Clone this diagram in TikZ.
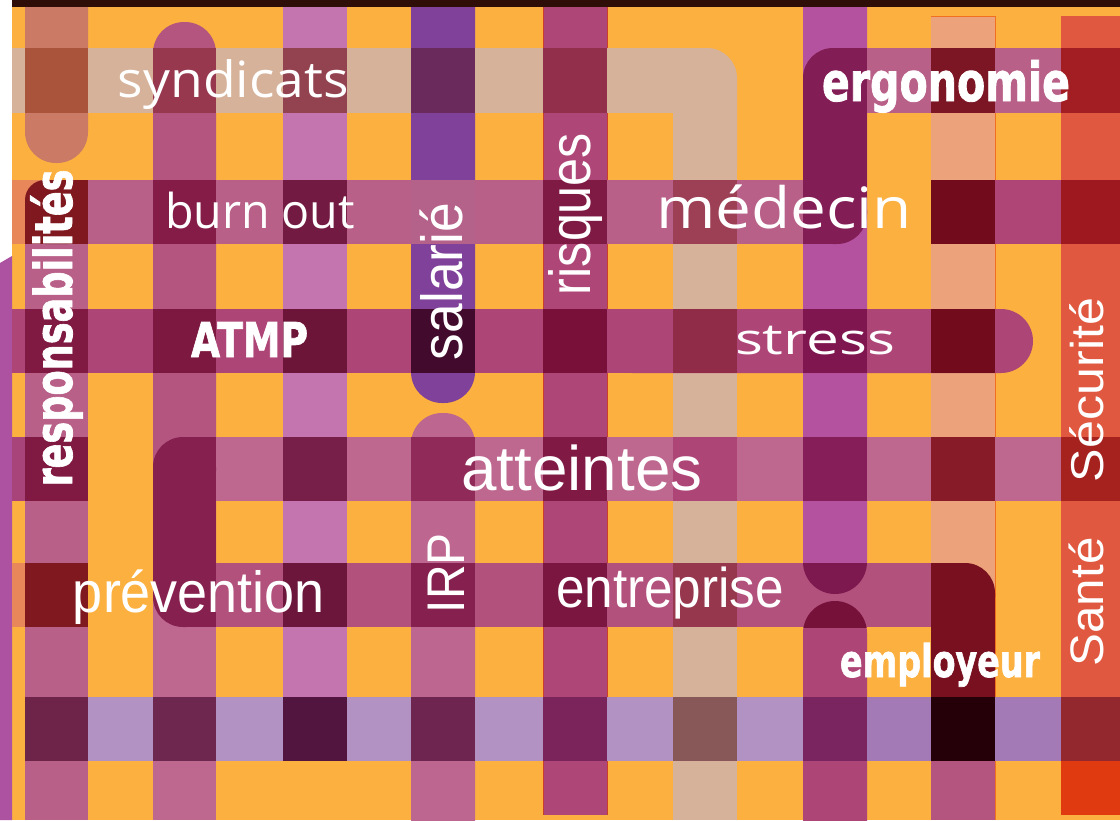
\documentclass[tikz,border=0pt]{standalone}
\usepackage{fontspec}
\usepackage{graphicx}
\setmainfont{Liberation Sans}
\newfontfamily\hum{Open Sans}
\newfontfamily\imp{DejaVu Sans}[BoldFeatures={FakeBold=1.6}]
% base colours
\definecolor{orng}{HTML}{FBB040}
\definecolor{topbar}{HTML}{2E0E06}
\definecolor{lpurp}{HTML}{AD52A0}
\definecolor{salA}{HTML}{CA7A65}
\definecolor{beige}{HTML}{D6B29A}
\definecolor{pkb}{HTML}{B86088}
\definecolor{mgb}{HTML}{AE4577}
\definecolor{atb}{HTML}{BE6890}
\definecolor{pvb}{HTML}{B3517D}
\definecolor{lav}{HTML}{B192C2}
\definecolor{lavb}{HTML}{A37AB5}
\definecolor{colB}{HTML}{B45580}
\definecolor{colC}{HTML}{C475B0}
\definecolor{colD}{HTML}{7F4199}
\definecolor{colE}{HTML}{AE4677}
\definecolor{colG}{HTML}{B5529F}
\definecolor{colH}{HTML}{ECA27A}
\definecolor{colI}{HTML}{E05840}
\definecolor{irpc}{HTML}{BD6690}
\definecolor{salm}{HTML}{E8875A}
\definecolor{colHb}{HTML}{B45580}
\definecolor{colIb}{HTML}{E03A10}
\definecolor{edgeo}{HTML}{F07020}
\definecolor{edger}{HTML}{C8402A}
% row 1
\definecolor{ra}{HTML}{A9543B}\definecolor{rb}{HTML}{97384F}\definecolor{rc}{HTML}{93434F}
\definecolor{rd}{HTML}{6A2A5C}\definecolor{re}{HTML}{922F4A}\definecolor{rg}{HTML}{831D56}
\definecolor{rh}{HTML}{7C1624}\definecolor{ri}{HTML}{A21E22}
% row 2
\definecolor{sa}{HTML}{801820}\definecolor{sb}{HTML}{851C48}\definecolor{sc}{HTML}{721A42}
\definecolor{sd}{HTML}{B5628A}\definecolor{se}{HTML}{7E1A43}\definecolor{sf}{HTML}{9E4055}
\definecolor{sh}{HTML}{720C1D}\definecolor{shi}{HTML}{AF4576}\definecolor{si}{HTML}{9E1820}
% row 3
\definecolor{ta}{HTML}{801A42}\definecolor{tb}{HTML}{7D1840}\definecolor{tc}{HTML}{6C1538}
\definecolor{td}{HTML}{420A2C}\definecolor{te}{HTML}{78103A}\definecolor{tf}{HTML}{912C48}
\definecolor{tg}{HTML}{7F1650}\definecolor{th}{HTML}{720C1D}
% row 4
\definecolor{ua}{HTML}{801A42}\definecolor{ugz}{HTML}{A8447A}\definecolor{ub}{HTML}{86204E}
\definecolor{uc}{HTML}{771F49}\definecolor{ud}{HTML}{902A58}\definecolor{ue}{HTML}{801A45}
\definecolor{uf}{HTML}{AE4577}\definecolor{ug}{HTML}{861F59}\definecolor{uh}{HTML}{871B28}
\definecolor{ui}{HTML}{A5221F}
% row 5
\definecolor{va}{HTML}{801820}\definecolor{vc}{HTML}{6C163C}\definecolor{vd}{HTML}{86204E}
\definecolor{ve}{HTML}{7B1640}\definecolor{vf}{HTML}{96374D}\definecolor{vgu}{HTML}{7E1950}
\definecolor{vgl}{HTML}{76123A}\definecolor{vh}{HTML}{78101F}
% row 6
\definecolor{wa}{HTML}{6E2449}\definecolor{wb}{HTML}{6E2850}\definecolor{wc}{HTML}{521540}
\definecolor{wd}{HTML}{6E2650}\definecolor{we}{HTML}{7B245C}\definecolor{wf}{HTML}{875857}
\definecolor{wg}{HTML}{7A2460}\definecolor{wh}{HTML}{250008}\definecolor{wi}{HTML}{93282E}

\newcommand\tx[3]{\resizebox{#1pt}{\height}{\fontsize{#2pt}{#2pt}\selectfont #3}}
\newcommand\bx[5]{\fill[#5] (#1,#2) rectangle (#3,#4);}
\newcommand\rTL[6]{\fill[#5,rounded corners=#6pt] (#1,#2) rectangle (#3,#4);
  \fill[#5] ({#1+#6},#2) rectangle (#3,#4);\fill[#5] (#1,{#2+#6}) rectangle (#3,#4);}
\newcommand\rTR[6]{\fill[#5,rounded corners=#6pt] (#1,#2) rectangle (#3,#4);
  \fill[#5] (#1,#2) rectangle ({#3-#6},#4);\fill[#5] (#1,{#2+#6}) rectangle (#3,#4);}
\newcommand\rBR[6]{\fill[#5,rounded corners=#6pt] (#1,#2) rectangle (#3,#4);
  \fill[#5] (#1,#2) rectangle ({#3-#6},#4);\fill[#5] (#1,#2) rectangle (#3,{#4-#6});}
\newcommand\rBL[6]{\fill[#5,rounded corners=#6pt] (#1,#2) rectangle (#3,#4);
  \fill[#5] ({#1+#6},#2) rectangle (#3,#4);\fill[#5] (#1,#2) rectangle (#3,{#4-#6});}

\begin{document}
\begin{tikzpicture}[x=1pt,y=-1pt,
  txt/.style={text=white, inner sep=0pt, outer sep=0pt, anchor=base},
  edgeline/.style={line width=1pt}]
\useasboundingbox (0,0) rectangle (1120,820);
\clip (0,0) rectangle (1120,820);
% background
\fill[white] (0,0) rectangle (1120,820);
\fill[orng] (12,0) rectangle (1120,820);
\fill[lpurp] (0,263) -- (12,256) -- (12,820) -- (0,820) -- cycle;

% ---------- vertical stripes ----------
\fill[salA, rounded corners=31pt] (25,-80) rectangle (88,163);
\bx{25}{244}{88}{820}{pkb}
\fill[colB, rounded corners=31pt] (153,22) rectangle (216,600);
\bx{153}{600}{216}{820}{atb}
\bx{283}{0}{347}{697}{colC}
\fill[colD, rounded corners=31pt] (411,-80) rectangle (475,403);
\fill[irpc, rounded corners=31pt] (411,413) rectangle (475,900);
\bx{543}{0}{607}{815}{colE}
\fill[colG, rounded corners=32pt] (803,-80) rectangle (867,594);
\fill[mgb, rounded corners=32pt] (803,601) rectangle (867,900);
\bx{931}{16}{995}{761}{colH}
\bx{931}{761}{995}{820}{colHb}
\bx{1061}{16}{1120}{761}{colI}
\bx{1061}{761}{1120}{815}{colIb}
\draw[edgeline, edger] (543,7) -- (543,815);
\draw[edgeline, edger] (607,7) -- (607,815);
\draw[edgeline, edgeo] (995.5,16) -- (995.5,820);
\draw[line width=1.5pt, edgeo] (931,16.5) -- (995,16.5);

% ---------- band 1 : syndicats (turns down column F) ----------
\bx{12}{48}{700}{113}{beige}
\fill[beige, rounded corners=30pt] (673,48) rectangle (737,200);
\bx{673}{100}{737}{820}{beige}
\bx{25}{48}{88}{113}{ra}
\bx{153}{48}{216}{113}{rb}
\bx{283}{48}{347}{113}{rc}
\bx{411}{48}{475}{113}{rd}
\bx{543}{48}{607}{113}{re}

% ---------- band 2 : burn out / medecin / ergonomie ----------
\bx{867}{48}{1120}{113}{pkb}
\rTL{803}{48}{867}{113}{rg}{30}
\bx{931}{48}{995}{113}{rh}
\bx{1061}{48}{1120}{113}{ri}
\bx{803}{113}{867}{180}{rg}
\bx{12}{180}{88}{244}{salm}
\rTL{25}{180}{88}{244}{sa}{20}
\bx{88}{180}{803}{244}{pkb}
\rBR{803}{180}{867}{244}{rg}{30}
\bx{153}{180}{216}{244}{sb}
\bx{283}{180}{347}{244}{sc}
\bx{411}{180}{475}{244}{sd}
\bx{543}{180}{607}{244}{se}
\bx{673}{180}{737}{244}{sf}
\bx{931}{180}{1120}{244}{shi}
\bx{931}{180}{995}{244}{sh}
\bx{1061}{180}{1120}{244}{si}

% ---------- band 3 : ATMP / stress ----------
\bx{12}{309}{700}{373}{mgb}
\fill[mgb, rounded corners=32pt] (600,309) rectangle (1033,373);
\bx{25}{309}{88}{373}{ta}
\bx{153}{309}{216}{373}{tb}
\bx{283}{309}{347}{373}{tc}
\bx{411}{309}{475}{373}{td}
\bx{543}{309}{607}{373}{te}
\bx{673}{309}{737}{373}{tf}
\bx{803}{309}{867}{373}{tg}
\bx{931}{309}{995}{373}{th}

% ---------- band 4 : atteintes, down column B, prevention, down column H ----------
\bx{12}{437}{25}{501}{ugz}
\bx{25}{437}{88}{501}{ua}
\bx{216}{437}{1120}{501}{atb}
\rTL{153}{437}{216}{501}{ub}{30}
\bx{283}{437}{347}{501}{uc}
\bx{411}{437}{475}{501}{ud}
\bx{543}{437}{607}{501}{ue}
\bx{673}{437}{737}{501}{uf}
\bx{803}{437}{867}{501}{ug}
\bx{931}{437}{995}{501}{uh}
\bx{1061}{437}{1120}{501}{ui}
\bx{153}{501}{216}{563}{ub}
\bx{12}{563}{25}{627}{salm}
\bx{25}{563}{88}{627}{va}
\bx{216}{563}{931}{627}{pvb}
\rBL{153}{563}{216}{627}{ub}{30}
\bx{283}{563}{347}{627}{vc}
\bx{411}{563}{475}{627}{vd}
\bx{543}{563}{607}{627}{ve}
\bx{673}{563}{737}{627}{vf}
\begin{scope}
  \clip (803,563) rectangle (867,627);
  \fill[vgu] (835,562) circle[radius=32pt];
  \fill[vgl, rounded corners=32pt] (803,601) rectangle (867,700);
\end{scope}
\rTR{931}{563}{995}{627}{vh}{30}
\bx{931}{620}{995}{697}{vh}

% ---------- band 6 : bottom row ----------
\bx{25}{697}{1120}{761}{lav}
\bx{867}{697}{931}{761}{lavb}
\bx{995}{697}{1061}{761}{lavb}
\bx{25}{697}{88}{761}{wa}
\bx{153}{697}{216}{761}{wb}
\bx{283}{697}{347}{761}{wc}
\bx{411}{697}{475}{761}{wd}
\bx{543}{697}{607}{761}{we}
\bx{673}{697}{737}{761}{wf}
\bx{803}{697}{867}{761}{wg}
\bx{931}{697}{995}{761}{wh}
\bx{1061}{697}{1120}{761}{wi}

% top bar
\fill[topbar] (12,0) rectangle (1120,7);

% ---------- words ----------
\node[txt] (syndicats) at (233.5,97) {\tx{231}{50}{\hum syndicats}};
\node[txt] (burnout) at (260,228) {\tx{190}{48}{\hum burn out}};
\node[txt] (medecin) at (784,228) {\tx{256}{57}{\hum médecin}};
\node[txt] (stress) at (815,354) {\tx{160}{43}{\hum stress}};
\node[txt] (ergonomie) at (946,101) {\tx{248}{54}{\imp\bfseries ergonomie}};
\node[txt] (atmp) at (249.5,357) {\tx{117}{48}{\imp\bfseries ATMP}};
\node[txt] (employeur) at (940,677) {\tx{200}{45}{\imp\bfseries employeur}};
\node[txt, rotate=90] (resp) at (72,328) {\tx{317}{52}{\imp\bfseries responsabilités}};
\node[txt, rotate=90] (salarie) at (462,281.5) {\tx{157}{58}{salarié}};
\node[txt, rotate=90] (risques) at (590,214) {\tx{162}{58}{risques}};
\node[txt] (atteintes) at (582,490) {\tx{241}{63}{atteintes}};
\node[txt, rotate=90] (irp) at (464,573) {\tx{80}{53}{IRP}};
\node[txt] (prevention) at (199,612) {\tx{252}{58}{prévention}};
\node[txt] (entreprise) at (670,607) {\tx{228}{56}{entreprise}};
\node[txt, rotate=90] (securite) at (1103,390) {\tx{184}{46}{Sécurité}};
\node[txt, rotate=90] (sante) at (1103,602) {\tx{129}{47}{Santé}};
\end{tikzpicture}
\end{document}
